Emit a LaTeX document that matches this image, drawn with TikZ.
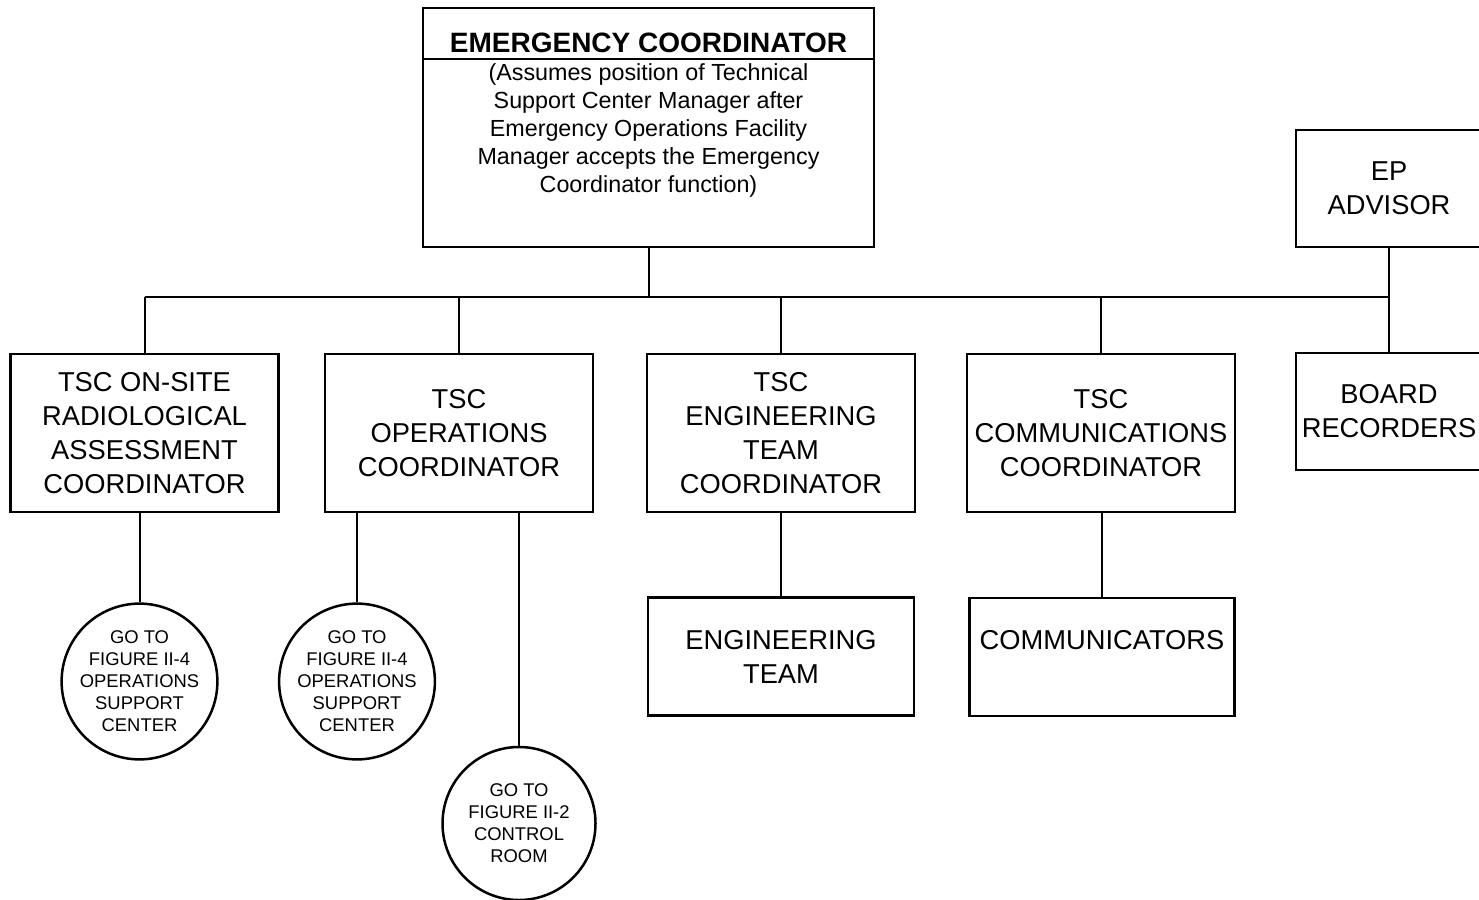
\documentclass[tikz,border=0pt]{standalone}
\usepackage{fontspec}
\setmainfont{Liberation Sans}

\begin{document}
\begin{tikzpicture}[x=1pt, y=-1pt,
  box/.style={draw, line width=2.5pt, minimum width=268pt, minimum height=158pt, align=center, inner sep=0pt, font=\fontsize{27.3}{34}\selectfont},
  goto/.style={draw, circle, line width=2.5pt, minimum size=153pt, align=center, inner sep=0pt, font=\fontsize{18.4}{22}\selectfont},
  link/.style={line width=2pt}]

 \useasboundingbox (0,0) rectangle (1479,899) ;
 \clip (0,0) rectangle (1479,899) ;

  %%%%%%%%%% Points pour travailler %%%%%%%%%%
 \coordinate (split) at (0,59) ;
 \coordinate (busl) at (144.5,297) ;
 \coordinate (busr) at (1389,297) ;

  %%%%%%%%%% Top box %%%%%%%%%%
 \node[draw, line width=2.5pt, minimum width=451pt, minimum height=239pt, inner sep=0pt] (ec) at (648.5,127.5) {} ;
 \draw [line width=2pt] (ec.west |- split) -- (ec.east |- split) ;
 \node[font=\fontsize{28}{33}\selectfont\bfseries, inner sep=0pt] (ectitle) at (648.5,43) {EMERGENCY COORDINATOR} ;
 \node[font=\fontsize{23.3}{28}\selectfont, align=center, inner sep=0pt] (ecnote) at (648.5,130) {(Assumes position of Technical\\ Support Center Manager after\\ Emergency Operations Facility\\ Manager accepts the Emergency\\ Coordinator function)} ;

 \node[box, minimum width=186pt, minimum height=117pt] (ep) at (1389,188.5) {EP\\ ADVISOR} ;
 \node[box, minimum width=186pt, minimum height=117pt] (board) at (1389,411.5) {BOARD\\ RECORDERS} ;

  %%%%%%%%%% Coordinators %%%%%%%%%%
 \node[box] (tsc1) at (144.5,433) {TSC ON-SITE\\ RADIOLOGICAL\\ ASSESSMENT\\ COORDINATOR} ;
 \node[box] (tsc2) at (459,433) {TSC\\ OPERATIONS\\ COORDINATOR} ;
 \node[box] (tsc3) at (781,433) {TSC\\ ENGINEERING\\ TEAM\\ COORDINATOR} ;
 \node[box] (tsc4) at (1101,433) {TSC\\ COMMUNICATIONS\\ COORDINATOR} ;

 % Layer 2
 \node[box, minimum width=266pt, minimum height=118pt] (engteam) at (781,656.5) {ENGINEERING\\ TEAM} ;
 \node[box, minimum width=265pt, minimum height=118pt] (comms) at (1102,657) {COMMUNICATORS\\ \mbox{}} ;

 \node[goto] (go1) at (139.5,681.5) {GO TO\\ FIGURE II-4\\ OPERATIONS\\ SUPPORT\\ CENTER} ;
 \node[goto] (go2) at (357,681.5) {GO TO\\ FIGURE II-4\\ OPERATIONS\\ SUPPORT\\ CENTER} ;
 \node[goto] (go3) at (519,823.5) {GO TO\\ FIGURE II-2\\ CONTROL\\ ROOM} ;

  %%%%%%%%%%% Lines %%%%%%%%%%%
 \draw [link] (ec.south) -- (ec.south |- busl) ;
 \draw [link] (busl) -- (busr) ;
 \draw [link] (ep.south) -- (board.north) ;

 \draw [link] (busl) -- (tsc1.north) ;
 \draw [link] (tsc2.north |- busl) -- (tsc2.north) ;
 \draw [link] (tsc3.north |- busl) -- (tsc3.north) ;
 \draw [link] (tsc4.north |- busl) -- (tsc4.north) ;

 \draw [link] (go1.north |- tsc1.south) -- (go1.north) ;
 \draw [link] (go2.north |- tsc2.south) -- (go2.north) ;
 \draw [link] (go3.north |- tsc2.south) -- (go3.north) ;
 \draw [link] (tsc3.south) -- (engteam.north) ;
 \draw [link] (comms.north |- tsc4.south) -- (comms.north) ;

\end{tikzpicture}
\end{document}
